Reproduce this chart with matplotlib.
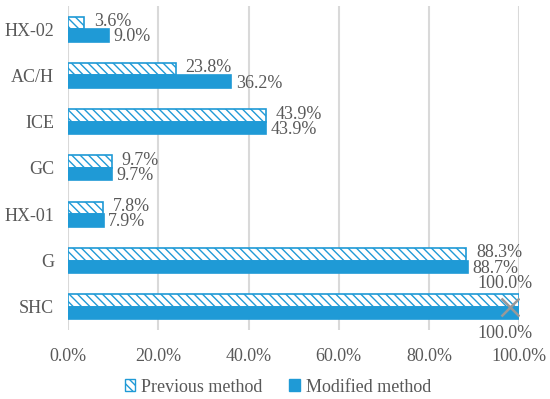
import numpy as np
import matplotlib.pyplot as plt
from matplotlib.patches import Patch

# Data (top to bottom)
categories = ["HX-02", "AC/H", "ICE", "GC", "HX-01", "G", "SHC"]
previous = [3.6, 23.8, 43.9, 9.7, 7.8, 88.3, 100.0]
modified = [9.0, 36.2, 43.9, 9.7, 7.9, 88.7, 100.0]
xticks = [0, 20, 40, 60, 80, 100]

blue = "#1f9ad6"
grey = "#595959"
fs = 13
plt.rcParams["font.family"] = ["Liberation Serif", "DejaVu Serif"]
plt.rcParams["hatch.linewidth"] = 1.0
plt.rcParams["hatch.color"] = blue

fig = plt.figure(figsize=(5.5, 3.99), dpi=100)
ax = fig.add_axes([0.124, 0.173, 0.820, 0.812])

y = np.arange(len(categories))
h = 0.27

ax.barh(y - h / 2, previous, height=h, color="white", edgecolor=blue,
        hatch="\\\\\\\\", linewidth=1.2, zorder=3)
ax.barh(y + h / 2, modified, height=h, color=blue, edgecolor=blue,
        linewidth=1.2, zorder=3)

# data labels
for i in range(len(categories)):
    if previous[i] >= 100:
        ax.annotate(f"{previous[i]:.1f}%", (previous[i], y[i] - h / 2),
                    xytext=(-10, 12), textcoords="offset points",
                    ha="center", va="center", fontsize=fs, color=grey)
        ax.annotate(f"{modified[i]:.1f}%", (modified[i], y[i] + h / 2),
                    xytext=(-10, -15), textcoords="offset points",
                    ha="center", va="center", fontsize=fs, color=grey)
        ax.plot(modified[i] - 2, y[i], marker="x", color="#999999",
                markersize=13, mew=1.8, zorder=4)
    else:
        ax.annotate(f"{previous[i]:.1f}%", (previous[i], y[i] - h / 2),
                    xytext=(7, 1), textcoords="offset points",
                    ha="left", va="center", fontsize=fs, color=grey)
        ax.annotate(f"{modified[i]:.1f}%", (modified[i], y[i] + h / 2),
                    xytext=(3, -1), textcoords="offset points",
                    ha="left", va="center", fontsize=fs, color=grey)

ax.set_xlim(0, 100)
ax.set_ylim(len(categories) - 0.5, -0.5)
ax.set_yticks(y)
ax.set_yticklabels(categories)
ax.set_xticks(xticks)
ax.set_xticklabels([f"{t:.1f}%" for t in xticks])
ax.tick_params(axis="both", length=0, labelsize=fs, labelcolor=grey)
ax.tick_params(axis="x", pad=13)
ax.tick_params(axis="y", pad=10)
ax.grid(axis="x", color="#d9d9d9", linewidth=1.5, zorder=0)
for s in ax.spines.values():
    s.set_visible(False)

handles = [Patch(facecolor="white", edgecolor=blue, hatch="\\\\\\\\", label="Previous method"),
           Patch(facecolor=blue, edgecolor=blue, label="Modified method")]
fig.legend(handles=handles, loc="center", bbox_to_anchor=(0.505, 0.03), ncol=2,
           frameon=False, fontsize=fs, labelcolor=grey, handlelength=0.6,
           handleheight=0.6, handletextpad=0.3, columnspacing=1.5)

fig.savefig("out.png", dpi=100)
